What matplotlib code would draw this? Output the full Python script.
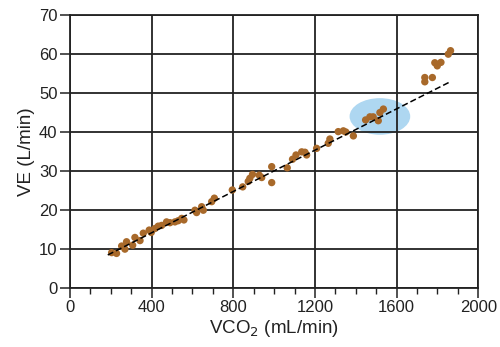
import matplotlib
matplotlib.use('Agg')
from matplotlib import pyplot as plt
from matplotlib.patches import Ellipse
from matplotlib.ticker import MultipleLocator

plt.rcParams['font.family'] = ['Liberation Sans', 'DejaVu Sans']

vco2 = [204, 228, 253, 269, 277, 307, 318, 343, 359, 388, 398, 416, 432, 449,
        473, 490, 514, 530, 547, 558, 612, 620, 645, 653, 694, 707, 795, 846,
        873, 881, 894, 927, 939, 988, 988, 1064, 1090, 1107, 1135, 1151, 1159,
        1208, 1265, 1273, 1314, 1339, 1351, 1388, 1448, 1469, 1485, 1510, 1518,
        1535, 1738, 1738, 1775, 1787, 1799, 1817, 1853, 1864]
ve = [9.0, 8.8, 10.7, 9.9, 11.8, 10.9, 12.9, 12.1, 14.0, 14.8, 14.2, 15.2, 15.8, 16.0,
      16.9, 16.7, 16.9, 17.2, 17.8, 17.4, 19.9, 19.3, 20.8, 19.9, 22.1, 23.0, 25.1, 25.9,
      27.3, 28.1, 29.1, 28.9, 28.3, 31.1, 27.0, 30.8, 33.0, 34.1, 34.9, 34.8, 34.1,
      35.8, 37.1, 38.2, 40.1, 40.3, 40.0, 39.0, 43.1, 43.9, 43.9, 42.9, 45.0,
      45.9, 54.0, 52.9, 54.0, 57.8, 57.0, 57.9, 60.0, 60.9]

fit_x = [185, 1862]
fit_y = [8.4, 52.9]

# highlighted region
ell_center = (1518, 44.0)
ell_w, ell_h = 297, 9.4

fig = plt.figure(figsize=(5, 3.47), dpi=100)
ax = fig.add_axes([0.14, 0.171, 0.8166, 0.785])

ax.add_patch(Ellipse(ell_center, ell_w, ell_h, facecolor='#aed7f1',
                     edgecolor='none', zorder=0.3))
ax.scatter(vco2, ve, s=28, color='#a8692a', edgecolors='none', zorder=3)
ax.plot(fit_x, fit_y, color='black', lw=1.1, ls=(0, (4, 2)), zorder=4)

ax.set_xlim(0, 2000)
ax.set_ylim(0, 70)
ax.xaxis.set_major_locator(MultipleLocator(400))
ax.xaxis.set_minor_locator(MultipleLocator(100))
ax.yaxis.set_major_locator(MultipleLocator(10))
ax.set_axisbelow(True)
ax.grid(True, which='major', color='#222222', lw=1.3)
for s in ax.spines.values():
    s.set_color('#222222')
    s.set_linewidth(1.3)
ax.tick_params(axis='both', which='major', length=7, width=1.1, color='#222222',
               labelsize=12, labelcolor='#222222', pad=2)
ax.tick_params(axis='x', which='minor', length=4, width=1.0, color='#222222')

ax.set_xlabel('VCO$_2$ (mL/min)', fontsize=13.5, color='#222222', labelpad=2)
ax.set_ylabel('VE (L/min)', fontsize=13.5, color='#222222', labelpad=3)

fig.savefig('out.png', dpi=100)
